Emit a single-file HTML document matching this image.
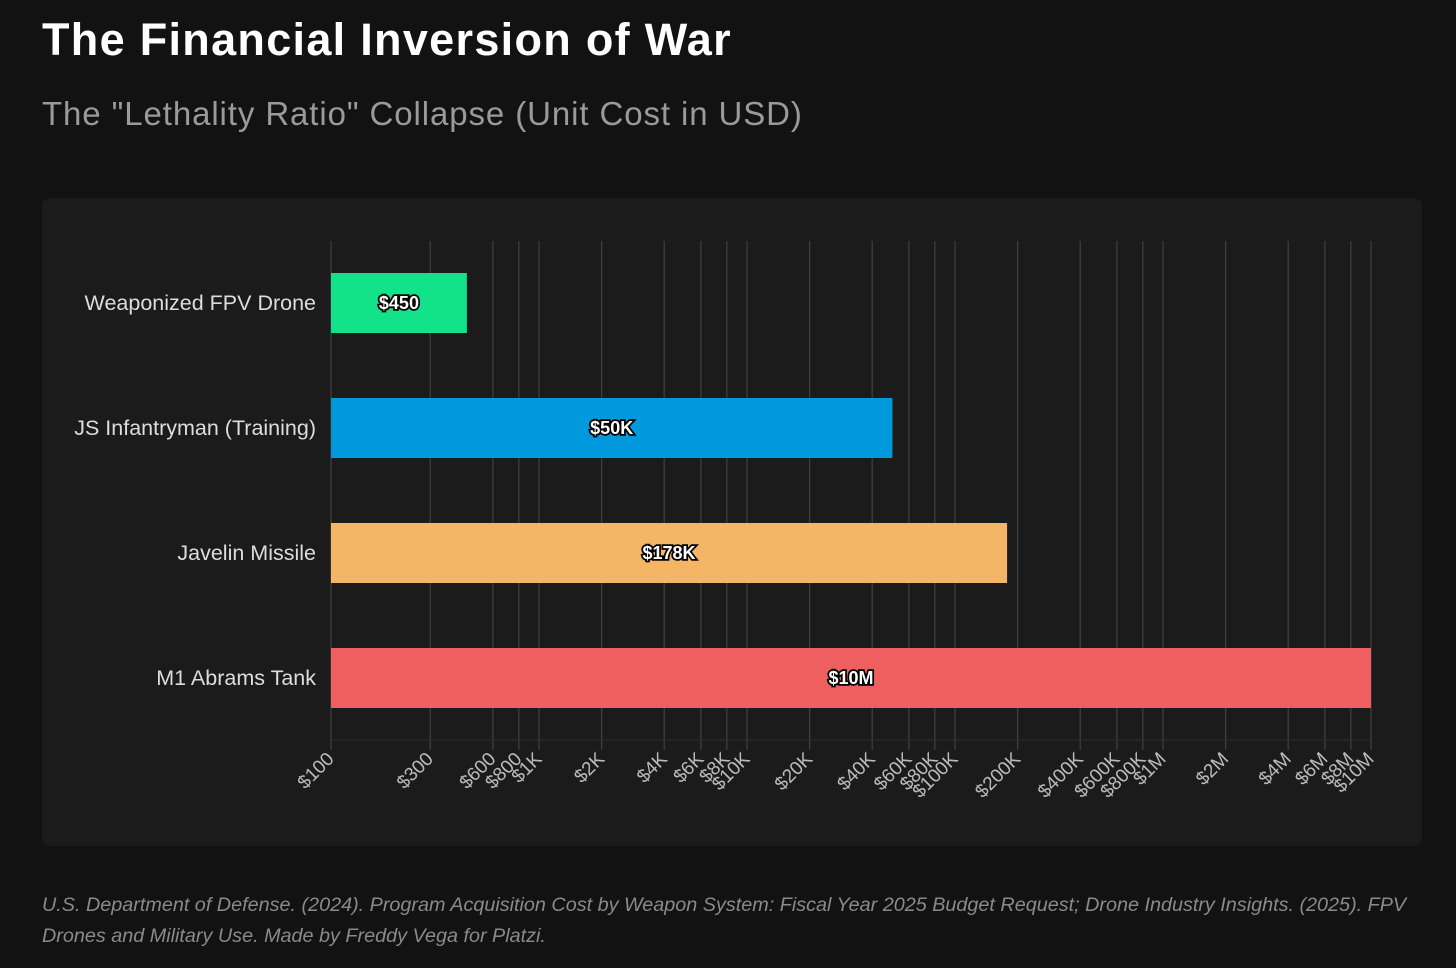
<!DOCTYPE html>
<html><head><meta charset="utf-8"><style>
body{margin:0;width:1456px;height:968px;background:#121212;font-family:"Liberation Sans",sans-serif;overflow:hidden;position:relative}
#title{position:absolute;left:42px;top:14px;font-size:45px;font-weight:bold;color:#fff;margin:0;letter-spacing:1.3px}
#sub{position:absolute;left:42px;top:95px;font-size:33px;color:#9a9a9a;letter-spacing:0.9px}
#panel{position:absolute;left:42px;top:198px;width:1380px;height:648px;background:#1b1b1b;border-radius:8px}
#foot{position:absolute;left:42px;top:890px;width:1400px;font-size:19.8px;font-style:italic;color:#8a8a8a;line-height:31px}
</style></head><body>
<div id="title">The Financial Inversion of War</div>
<div id="sub">The "Lethality Ratio" Collapse (Unit Cost in USD)</div>
<div id="panel"></div>
<svg id="chart" width="1456" height="968" style="position:absolute;left:0;top:0"></svg>
<div id="foot">U.S. Department of Defense. (2024). Program Acquisition Cost by Weapon System: Fiscal Year 2025 Budget Request; Drone Industry Insights. (2025). FPV Drones and Military Use. Made by Freddy Vega for Platzi.</div>
<script>
const categories=["Weaponized FPV Drone","JS Infantryman (Training)","Javelin Missile","M1 Abrams Tank"];
const values=[450,50000,178000,10000000];
const valueLabels=["$450","$50K","$178K","$10M"];
const colors=["#12e28a","#0099dd","#f4b567","#ef5f60"];
const tickValues=[100,300,600,800,1e3,2e3,4e3,6e3,8e3,1e4,2e4,4e4,6e4,8e4,1e5,2e5,4e5,6e5,8e5,1e6,2e6,4e6,6e6,8e6,1e7];
const tickLabels=["$100","$300","$600","$800","$1K","$2K","$4K","$6K","$8K","$10K","$20K","$40K","$60K","$80K","$100K","$200K","$400K","$600K","$800K","$1M","$2M","$4M","$6M","$8M","$10M"];
const svg=document.getElementById('chart');const NS="http://www.w3.org/2000/svg";
const x0=331,x1=1371,dMin=2,dMax=7;
function xs(v){return x0+(Math.log10(v)-dMin)/(dMax-dMin)*(x1-x0);}
function ys(i){return 241+i*125+32;}
const bh=60;
function mk(t,a){const e=document.createElementNS(NS,t);for(const k in a)e.setAttribute(k,a[k]);svg.appendChild(e);return e;}
tickValues.forEach((v,i)=>{
const l=mk('line',{x1:xs(v),x2:xs(v),y1:241,y2:750,stroke:'#3e3e3e','stroke-width':1.3});


const t=mk('text',{x:xs(v)+4,y:760,fill:'#bbb','font-size':19,'text-anchor':'end',transform:`rotate(-45 ${xs(v)+4} 760)`});
t.textContent=tickLabels[i];


});
const ax=mk('line',{x1:x0,x2:x1,y1:740,y2:740,stroke:'#2c2c2c'});


categories.forEach((c,i)=>{
const y=ys(i);
const r=mk('rect',{x:x0,y:y,width:xs(values[i])-x0,height:bh,fill:colors[i]});


const cl=mk('text',{x:316,y:y+bh/2+7,fill:'#ddd','font-size':21.5,'text-anchor':'end'});
cl.textContent=c;


const vl=mk('text',{x:(x0+xs(values[i]))/2,y:y+bh/2+6,fill:'#fff','font-size':18,'font-weight':'bold','text-anchor':'middle',stroke:'#000','stroke-width':3.5,'paint-order':'stroke'});
vl.textContent=valueLabels[i];


});
</script>
</body></html>
